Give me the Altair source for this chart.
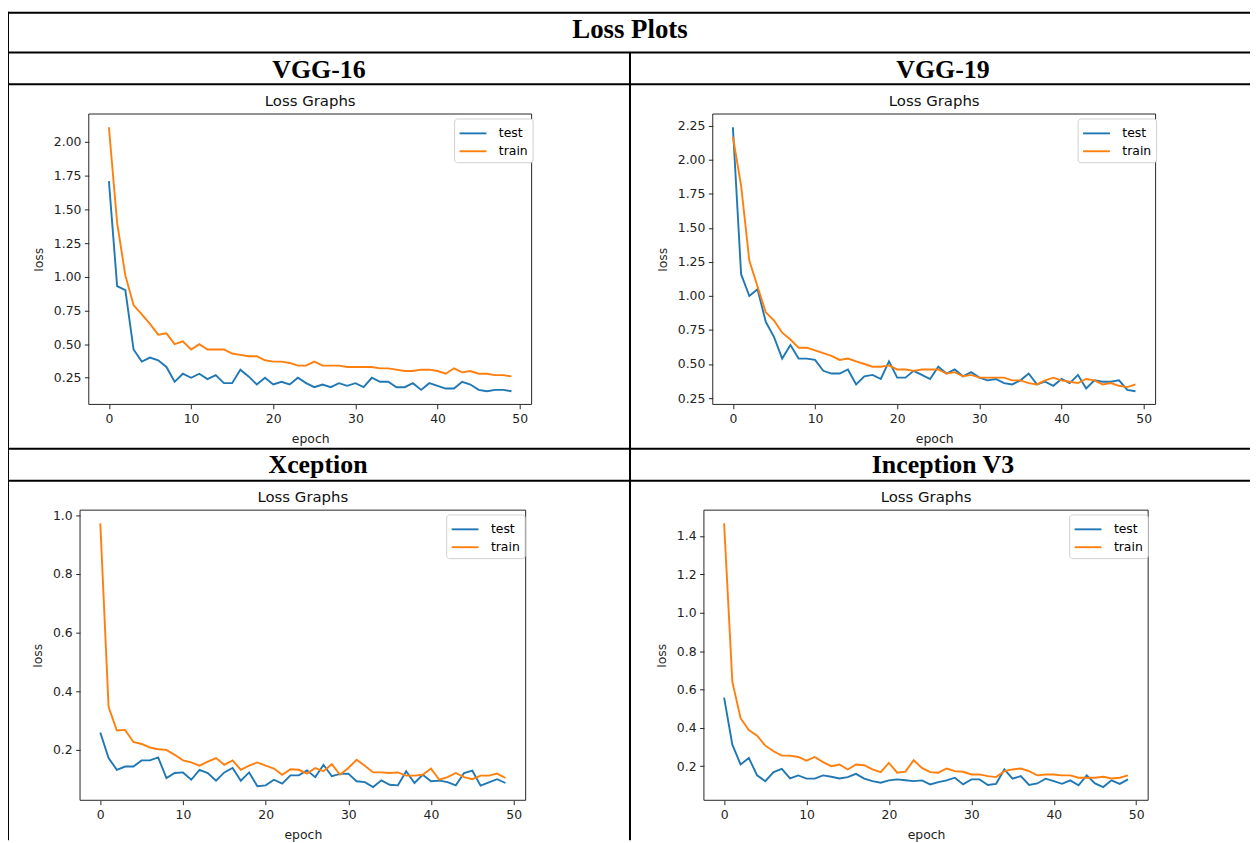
import altair as alt
import pandas as pd

# ---------------- data ----------------
epochs = list(range(50))
series_names = ["test", "train"]
headers = ["VGG-16", "VGG-19", "Xception", "Inception V3"]
main_title = "Loss Plots"
panel_title = "Loss Graphs"

vgg16_test = [1.71, 0.93, 0.90, 0.46, 0.37, 0.40, 0.38, 0.33, 0.22, 0.28,
              0.25, 0.28, 0.24, 0.27, 0.21, 0.21, 0.31, 0.26, 0.20, 0.25,
              0.20, 0.22, 0.20, 0.25, 0.21, 0.18, 0.20, 0.18, 0.21, 0.19,
              0.21, 0.18, 0.25, 0.22, 0.22, 0.18, 0.18, 0.21, 0.16, 0.21,
              0.19, 0.17, 0.17, 0.22, 0.20, 0.16, 0.15, 0.16, 0.16, 0.15]
vgg16_train = [2.11, 1.40, 1.01, 0.79, 0.72, 0.65, 0.57, 0.58, 0.50, 0.52,
               0.46, 0.50, 0.46, 0.46, 0.46, 0.43, 0.42, 0.41, 0.41, 0.38,
               0.37, 0.37, 0.36, 0.34, 0.34, 0.37, 0.34, 0.34, 0.34, 0.33,
               0.33, 0.33, 0.33, 0.32, 0.32, 0.31, 0.30, 0.30, 0.31, 0.31,
               0.30, 0.28, 0.32, 0.29, 0.30, 0.28, 0.28, 0.27, 0.27, 0.26]

vgg19_test = [2.24, 1.16, 1.00, 1.05, 0.81, 0.70, 0.54, 0.64, 0.54, 0.54,
              0.53, 0.45, 0.43, 0.43, 0.46, 0.35, 0.41, 0.42, 0.39, 0.52,
              0.40, 0.40, 0.45, 0.42, 0.39, 0.48, 0.43, 0.46, 0.41, 0.44,
              0.40, 0.38, 0.39, 0.36, 0.35, 0.38, 0.43, 0.35, 0.37, 0.34,
              0.39, 0.36, 0.42, 0.32, 0.38, 0.37, 0.37, 0.38, 0.31, 0.30]
vgg19_train = [2.17, 1.81, 1.26, 1.07, 0.88, 0.82, 0.73, 0.68, 0.62, 0.62,
               0.60, 0.58, 0.56, 0.53, 0.54, 0.52, 0.50, 0.48, 0.48, 0.49,
               0.46, 0.46, 0.45, 0.46, 0.46, 0.46, 0.43, 0.44, 0.41, 0.42,
               0.40, 0.40, 0.40, 0.40, 0.38, 0.38, 0.36, 0.35, 0.38, 0.40,
               0.38, 0.37, 0.36, 0.39, 0.38, 0.35, 0.36, 0.34, 0.33, 0.35]

xcep_test = [0.259, 0.172, 0.132, 0.143, 0.143, 0.164, 0.164, 0.174, 0.104, 0.121,
             0.123, 0.098, 0.132, 0.121, 0.095, 0.123, 0.138, 0.095, 0.123, 0.076,
             0.079, 0.098, 0.085, 0.113, 0.113, 0.130, 0.107, 0.149, 0.110, 0.118,
             0.119, 0.093, 0.090, 0.073, 0.096, 0.081, 0.079, 0.127, 0.087, 0.115,
             0.093, 0.095, 0.090, 0.079, 0.121, 0.129, 0.078, 0.089, 0.100, 0.087]
xcep_train = [0.972, 0.347, 0.266, 0.268, 0.227, 0.220, 0.208, 0.202, 0.200, 0.183,
              0.164, 0.157, 0.146, 0.160, 0.172, 0.149, 0.164, 0.132, 0.146, 0.157,
              0.146, 0.136, 0.115, 0.134, 0.132, 0.119, 0.138, 0.127, 0.151, 0.115,
              0.138, 0.166, 0.146, 0.123, 0.123, 0.121, 0.123, 0.112, 0.112, 0.115,
              0.136, 0.098, 0.107, 0.121, 0.107, 0.100, 0.112, 0.112, 0.119, 0.104]

incep_test = [0.557, 0.312, 0.209, 0.243, 0.152, 0.122, 0.169, 0.186, 0.136, 0.152,
              0.135, 0.135, 0.152, 0.145, 0.136, 0.143, 0.160, 0.135, 0.122, 0.114,
              0.126, 0.131, 0.127, 0.122, 0.126, 0.105, 0.117, 0.126, 0.140, 0.105,
              0.131, 0.131, 0.102, 0.108, 0.183, 0.135, 0.148, 0.102, 0.110, 0.135,
              0.122, 0.108, 0.126, 0.100, 0.152, 0.110, 0.091, 0.126, 0.108, 0.131]
incep_train = [1.466, 0.640, 0.450, 0.388, 0.359, 0.307, 0.278, 0.255, 0.255, 0.248,
               0.229, 0.248, 0.221, 0.200, 0.209, 0.183, 0.209, 0.205, 0.183, 0.169,
               0.217, 0.166, 0.172, 0.231, 0.191, 0.169, 0.166, 0.188, 0.174, 0.171,
               0.157, 0.157, 0.148, 0.143, 0.174, 0.183, 0.188, 0.174, 0.152, 0.157,
               0.157, 0.152, 0.152, 0.140, 0.140, 0.140, 0.145, 0.136, 0.140, 0.152]

x_ticks = [0, 10, 20, 30, 40, 50]
y_ticks_vgg16 = [0.25, 0.50, 0.75, 1.00, 1.25, 1.50, 1.75, 2.00]
y_ticks_vgg19 = [0.25, 0.50, 0.75, 1.00, 1.25, 1.50, 1.75, 2.00, 2.25]
y_ticks_xcep = [0.2, 0.4, 0.6, 0.8, 1.0]
y_ticks_incep = [0.2, 0.4, 0.6, 0.8, 1.0, 1.2, 1.4]

# ---------------- style / layout ----------------
W, H = 1250, 835
BLUE, ORANGE = "#1f77b4", "#ff7f0e"
FRAME = "#262626"
SANS = "DejaVu Sans"
SERIF = "Liberation Serif"
one = pd.DataFrame({"k": [0]})


def panel(test, train, xr, yr, yticks, fmt, lx, ly):
    df = pd.DataFrame({
        "epoch": epochs + epochs,
        "loss": test + train,
        "series": [series_names[0]] * len(test) + [series_names[1]] * len(train),
    })
    lo, hi = min(test + train), max(test + train)
    r = hi - lo
    ydom = [lo - 0.05 * r, hi + 0.05 * r]
    xdom = [-0.05 * 49, 49 + 0.05 * 49]
    xs = alt.Scale(domain=xdom, range=[xr[0], xr[1]], nice=False, zero=False)
    ys = alt.Scale(domain=ydom, range=[yr[1], yr[0]], nice=False, zero=False)
    lines = alt.Chart(df).mark_line(strokeWidth=1.9).encode(
        x=alt.X("epoch:Q", scale=xs,
                axis=alt.Axis(orient="bottom", offset=yr[1] - H, values=x_ticks,
                              format="d", title="epoch")),
        y=alt.Y("loss:Q", scale=ys,
                axis=alt.Axis(orient="left", offset=-xr[0], values=yticks,
                              format=fmt, title="loss")),
        color=alt.Color("series:N", title=None,
                        scale=alt.Scale(domain=series_names, range=[BLUE, ORANGE]),
                        legend=alt.Legend(orient="none", legendX=lx, legendY=ly,
                                          symbolType="M-1.35,0L1.35,0", symbolSize=400,
                                          symbolStrokeWidth=1.9, symbolOffset=4,
                                          labelFont=SANS, labelFontSize=12.5,
                                          labelColor="#000", labelOffset=15,
                                          padding=4, rowPadding=0,
                                          strokeColor="#d0d0d0", fillColor="white",
                                          cornerRadius=3)),
        order="epoch:Q",
    )
    frame = alt.Chart(one).mark_rect(fillOpacity=0, stroke=FRAME, strokeWidth=1).encode(
        x=alt.value(xr[0]), x2=alt.value(xr[1]), y=alt.value(yr[0]), y2=alt.value(yr[1]))
    return alt.layer(frame, lines)


def text(t, x, y, size, font, weight="normal", color="#000"):
    return alt.Chart(pd.DataFrame({"t": [t]})).mark_text(
        font=font, fontSize=size, fontWeight=weight, color=color,
        align="center", baseline="alphabetic").encode(
        x=alt.value(x), y=alt.value(y), text="t:N")


def hline(y, x0, x1):
    return alt.Chart(one).mark_rule(color="black", strokeWidth=2).encode(
        x=alt.value(x0), x2=alt.value(x1), y=alt.value(y))


def vline(x, y0, y1):
    return alt.Chart(one).mark_rule(color="black", strokeWidth=2).encode(
        x=alt.value(x), y=alt.value(y0), y2=alt.value(y1))


# panel rectangles (chart coordinates)
P1x, P1y = (81.3, 527.0), (104.0, 396.3)
P2x, P2y = (709.3, 1155.0), (104.0, 396.3)
P3x, P3y = (72.5, 521.0), (502.7, 794.7)
P4x, P4y = (700.4, 1147.5), (502.7, 794.7)

p1 = panel(vgg16_test, vgg16_train, P1x, P1y, y_ticks_vgg16, ".2f", 449.0, 108.5)
p2 = panel(vgg19_test, vgg19_train, P2x, P2y, y_ticks_vgg19, ".2f", 1076.5, 108.5)
p3 = panel(xcep_test, xcep_train, P3x, P3y, y_ticks_xcep, ".1f", 441.0, 507.0)
p4 = panel(incep_test, incep_train, P4x, P4y, y_ticks_incep, ".1f", 1068.0, 507.0)

decor = [
    hline(2, 0, W), hline(42, 0, W), hline(74, 0, W), hline(441, 0, W), hline(473, 0, W),
    vline(0, 1, H), vline(626, 42, H),
    text(main_title, 626, 28, 27, SERIF, "bold"),
    text(headers[0], 313, 68, 26, SERIF, "bold"),
    text(headers[1], 941, 68, 26, SERIF, "bold"),
    text(headers[2], 312, 465, 26, SERIF, "bold"),
    text(headers[3], 941, 465, 26, SERIF, "bold"),
    text(panel_title, (P1x[0] + P1x[1]) / 2, 95.5, 15, SANS, color="#111"),
    text(panel_title, (P2x[0] + P2x[1]) / 2, 95.5, 15, SANS, color="#111"),
    text(panel_title, (P3x[0] + P3x[1]) / 2, 494.5, 15, SANS, color="#111"),
    text(panel_title, (P4x[0] + P4x[1]) / 2, 494.5, 15, SANS, color="#111"),
]

chart = alt.layer(*decor, p1, p2, p3, p4).resolve_scale(
    x="independent", y="independent", color="independent"
).properties(
    width=W, height=H, autosize=alt.AutoSizeParams(type="none"), padding=0
).configure_view(
    stroke="transparent"
).configure_axis(
    grid=False, domain=False,
    labelFont=SANS, labelFontSize=12.5, labelColor="#222",
    titleFont=SANS, titleFontSize=12.5, titleFontWeight="normal", titleColor="#222",
    tickColor=FRAME, tickSize=4.4, tickWidth=1, labelPadding=3.5, titlePadding=8,
    labelOverlap=False,
)

chart.save("out.html", embed_options={"renderer": "svg", "actions": False})
